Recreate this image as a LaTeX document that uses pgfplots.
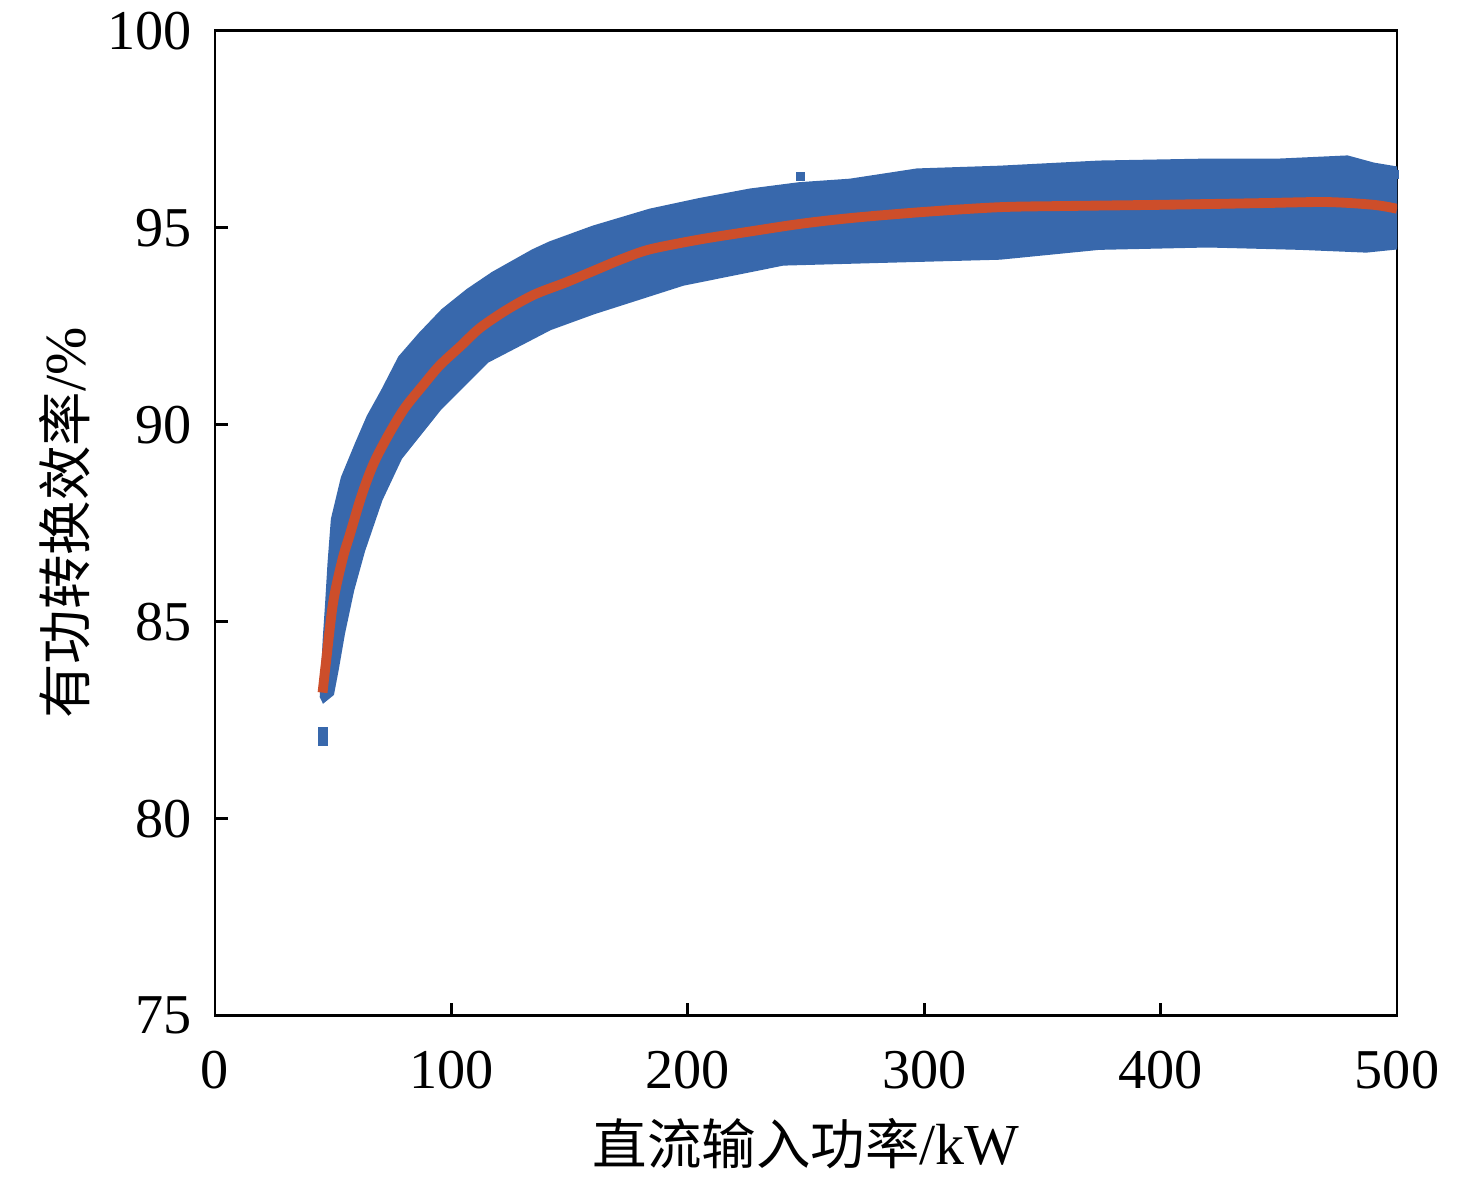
\documentclass[border=0pt]{standalone}
\usepackage{fontspec}
\setmainfont{Liberation Serif}
\newfontfamily\cjk{Noto Sans CJK SC}
\usepackage{pgfplots}
\pgfplotsset{compat=1.18}
\definecolor{bandblue}{RGB}{56,104,172}
\definecolor{fitred}{RGB}{205,78,42}
\begin{document}
\begin{tikzpicture}
\begin{axis}[
  name=ax,
  scale only axis,
  width=11.82cm, height=9.85cm,
  xmin=0, xmax=500, ymin=75, ymax=100,
  xtick={0,100,...,500}, ytick={75,80,...,100},
  tick align=inside, xtick pos=bottom, ytick pos=left,
  major tick length=1.3mm,
  axis line style={line width=0.8pt},
  every tick/.style={line width=0.8pt, black},
  /pgf/number format/assume math mode=true,
  ticklabel style={font=\fontsize{16}{19}\selectfont},
  xticklabel style={yshift=-2.3mm},
  yticklabel style={xshift=-1.1mm},
  xlabel={{\fontsize{15.5}{18}\cjk 直流输入功率}{\fontsize{16.5}{19}\selectfont /kW}},
  ylabel={{\fontsize{15.5}{18}\cjk 有功转换效率}{\fontsize{16.5}{19}\selectfont /\%}},
  xlabel style={at={(axis description cs:0.5,-0.130)}, anchor=center},
  ylabel style={at={(axis description cs:-0.127,0.5)}, anchor=center},
  clip=true,
]
% scatter band (envelope of the blue points)
\addplot[fill=bandblue, draw=bandblue, line width=1.2pt] coordinates {
 (45.2,83.1) (46.5,84.6) (47.4,85.4) (48.5,86.5) (49.9,87.6) (54.1,88.65)
 (60.1,89.52) (65,90.2) (71.1,90.86) (78.3,91.70) (87,92.3) (96.4,92.89)
 (107,93.4) (117.6,93.83) (134.5,94.4) (141.7,94.6) (160,95.0) (184,95.43)
 (205,95.7) (226.3,95.94) (247,96.1) (268.6,96.19) (297,96.45) (332,96.52)
 (374,96.65) (420,96.7) (450,96.7) (479,96.78) (490,96.6) (500,96.5)
 (500,94.5) (487,94.42) (459,94.49) (420,94.55) (374,94.49) (332,94.24)
 (282.6,94.16) (240.3,94.09) (198,93.58) (160,92.85) (141.7,92.45)
 (115.1,91.62) (95.2,90.43) (78.3,89.16) (70,88.1) (62.6,86.80) (58,85.8)
 (54.1,84.70) (51.5,83.8) (49.5,83.17) (46,83.0)
} -- cycle;
% isolated points
\addplot[only marks, mark=square*, mark size=1.1pt, color=bandblue] coordinates {
 (45.7,82.2) (45.7,81.95) (247.5,96.3) (498,94.75) (499,96.35)
};
% fitted curve
\addplot[color=fitred, line width=2.8pt, smooth] coordinates {
 (45.5,83.2) (47,84.0) (50,85.5) (54,86.6) (57,87.2) (62,88.2) (67,89.0)
 (73,89.7) (80,90.4) (88,91.0) (95,91.5) (104,92.0) (112,92.45) (123,92.9)
 (135,93.3) (148,93.6) (160,93.9) (172,94.2) (184,94.45) (205,94.7)
 (226,94.9) (248,95.1) (270,95.25) (300,95.4) (332,95.52) (360,95.55)
 (400,95.58) (440,95.62) (470,95.65) (490,95.58) (500,95.48)
};
\end{axis}
\path (ax.south west) ++(-2.15cm,-1.63cm) rectangle ++(14.76cm,11.78cm);
\end{tikzpicture}
\end{document}
